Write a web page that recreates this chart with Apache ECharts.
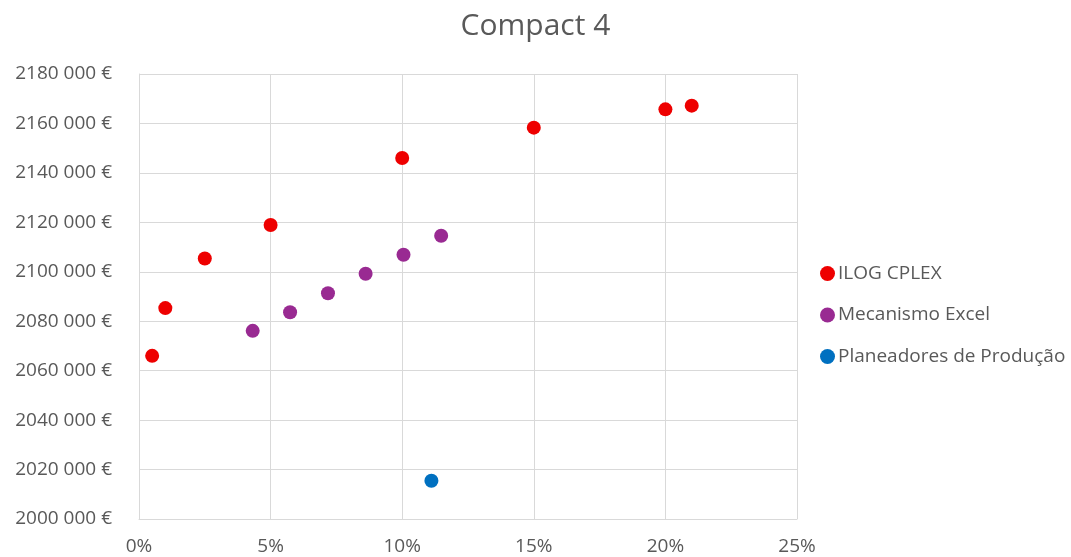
<!DOCTYPE html>
<html>
<head>
<meta charset="utf-8">
<script src="https://cdn.jsdelivr.net/npm/echarts@6/dist/echarts.min.js"></script>
<style>
  html, body { margin: 0; padding: 0; background: #fff; }
  #chart { width: 1071px; height: 557px; }
</style>
</head>
<body>
<div id="chart"></div>
<script>
// Cost versus deviation for each planning method
const titleText = 'Compact 4';
const seriesNames = ['ILOG CPLEX', 'Mecanismo Excel', 'Planeadores de Produção'];
const seriesColors = ['#ee0000', '#992a92', '#0070c0'];

const cplexX = [0.005, 0.01, 0.025, 0.05, 0.10, 0.15, 0.20, 0.21];
const cplexY = [2066000, 2085300, 2105400, 2118900, 2146000, 2158300, 2165700, 2167200];

const excelX = [0.0432, 0.0574, 0.0718, 0.0861, 0.1005, 0.1148];
const excelY = [2076100, 2083600, 2091300, 2099200, 2106900, 2114600];

const plannersX = [0.1111];
const plannersY = [2015500];

const xTicks = { min: 0, max: 0.25, step: 0.05 };
const yTicks = { min: 2000000, max: 2180000, step: 20000 };

function pairs(xs, ys) { return xs.map((x, i) => [x, ys[i]]); }

function euro(v) {
  const k = Math.floor(v / 1000);
  const r = String(Math.round(v % 1000)).padStart(3, '0');
  return k + ' ' + r + ' €';
}

const font = '"Open Sans", sans-serif';
const textColor = '#595959';
const gridColor = '#d9d9d9';

const chart = echarts.init(document.getElementById('chart'), null, { renderer: 'canvas' });
chart.setOption({
  animation: false,
  backgroundColor: '#ffffff',
  title: {
    text: titleText,
    left: 'center',
    top: 6,
    textStyle: { fontFamily: font, fontSize: 30, fontWeight: 'normal', color: textColor }
  },
  legend: {
    orient: 'vertical',
    left: 815,
    top: 259,
    itemGap: 22.5,
    itemWidth: 15,
    itemHeight: 15,
    icon: 'circle',
    textStyle: { fontFamily: font, fontSize: 19, color: textColor, padding: [0, 0, 0, -2] },
    data: seriesNames
  },
  grid: { left: 139, right: 274, top: 74, bottom: 38, containLabel: false },
  xAxis: {
    type: 'value',
    min: xTicks.min, max: xTicks.max, interval: xTicks.step,
    axisLine: { show: true, lineStyle: { color: gridColor, width: 1 } },
    axisTick: { show: false },
    splitLine: { show: true, lineStyle: { color: gridColor, width: 1 } },
    axisLabel: {
      fontFamily: font, fontSize: 19, color: textColor, margin: 18,
      formatter: v => Math.round(v * 100) + '%'
    }
  },
  yAxis: {
    type: 'value',
    min: yTicks.min, max: yTicks.max, interval: yTicks.step,
    axisLine: { show: true, lineStyle: { color: gridColor, width: 1 } },
    axisTick: { show: false },
    splitLine: { show: true, lineStyle: { color: gridColor, width: 1 } },
    axisLabel: {
      fontFamily: font, fontSize: 19, color: textColor, margin: 27,
      formatter: euro
    }
  },
  series: [
    { name: seriesNames[0], type: 'scatter', symbolSize: 14, itemStyle: { color: seriesColors[0], opacity: 1 }, data: pairs(cplexX, cplexY) },
    { name: seriesNames[1], type: 'scatter', symbolSize: 14, itemStyle: { color: seriesColors[1], opacity: 1 }, data: pairs(excelX, excelY) },
    { name: seriesNames[2], type: 'scatter', symbolSize: 14, itemStyle: { color: seriesColors[2], opacity: 1 }, data: pairs(plannersX, plannersY) }
  ]
});
</script>
</body>
</html>
